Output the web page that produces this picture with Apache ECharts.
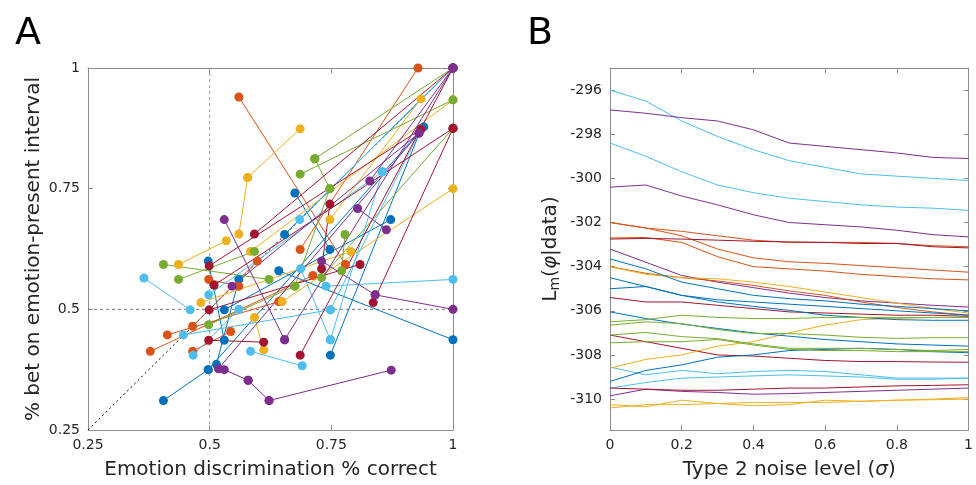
<!DOCTYPE html>
<html>
<head>
<meta charset="utf-8">
<script src="https://cdn.jsdelivr.net/npm/echarts@6/dist/echarts.min.js"></script>
<style>
  html, body { margin: 0; padding: 0; background: #fff; }
  #main { width: 976px; height: 485px; }
</style>
</head>
<body>
<div id="main"></div>
<script>
// ---- panel A: pairs of points per subject, grouped by colour ----
var blueA = [
  [[0.405, 0.311], [0.497, 0.375]],
  [[0.514, 0.386], [0.56, 0.562]],
  [[0.497, 0.60], [0.53, 0.436]],
  [[0.642, 0.58], [1, 0.437]],
  [[0.748, 0.405], [0.934, 0.873]],
  [[0.53, 0.499], [0.872, 0.686]],
  [[0.654, 0.655], [1, 1]],
  [[0.675, 0.741], [0.747, 0.624]],
  [[0.497, 0.375], [0.94, 0.878]]
];
var orangeA = [
  [[0.56, 0.94], [0.779, 0.593]],
  [[0.928, 1], [0.686, 0.624]],
  [[0.378, 0.413], [0.712, 0.57]],
  [[0.413, 0.447], [0.642, 0.516]],
  [[0.465, 0.413], [0.543, 0.454]],
  [[0.465, 0.465], [0.598, 0.6]],
  [[0.498, 0.562], [0.56, 0.548]]
];
var yellowA = [
  [[0.578, 0.773], [0.686, 0.874]],
  [[0.56, 0.656], [0.578, 0.773]],
  [[0.436, 0.593], [0.534, 0.642]],
  [[0.584, 0.62], [1, 0.934]],
  [[0.747, 0.686], [0.934, 0.936]],
  [[0.649, 0.516], [1, 0.75]],
  [[0.482, 0.514], [0.79, 0.62]],
  [[0.592, 0.483], [0.611, 0.416]]
];
var greenA = [
  [[0.716, 0.812], [1, 1]],
  [[0.686, 0.78], [1, 0.934]],
  [[0.716, 0.812], [0.747, 0.75]],
  [[0.405, 0.593], [0.622, 0.562]],
  [[0.436, 0.562], [0.592, 0.62]],
  [[0.778, 0.655], [0.771, 0.58]],
  [[0.73, 0.566], [1, 0.875]],
  [[0.498, 0.468], [0.675, 0.548]],
  [[0.747, 0.75], [0.675, 0.548]]
];
var cyanA = [
  [[0.365, 0.565], [0.46, 0.499]],
  [[0.855, 0.785], [0.748, 0.437]],
  [[0.748, 0.499], [0.934, 0.873]],
  [[0.584, 0.413], [0.69, 0.383]],
  [[0.446, 0.447], [0.748, 0.499]],
  [[0.739, 0.548], [1, 0.562]],
  [[0.687, 0.584], [0.748, 0.437]],
  [[0.685, 0.686], [1, 1]],
  [[0.498, 0.53], [0.855, 0.785]],
  [[0.466, 0.405], [0.56, 0.5]]
];
var darkredA = [
  [[0.592, 0.656], [1, 1]],
  [[0.499, 0.59], [0.934, 0.873]],
  [[0.747, 0.718], [0.73, 0.584]],
  [[0.836, 0.514], [1, 0.875]],
  [[0.499, 0.499], [0.809, 0.593]],
  [[0.498, 0.436], [0.611, 0.432]],
  [[0.686, 0.405], [1, 1]],
  [[0.509, 0.55], [1, 0.875]]
];
var purpleA = [
  [[0.53, 0.686], [0.654, 0.437]],
  [[0.518, 0.377], [0.93, 0.865]],
  [[0.53, 0.375], [0.579, 0.353]],
  [[0.579, 0.353], [0.622, 0.311]],
  [[0.622, 0.311], [0.873, 0.374]],
  [[0.654, 0.437], [1, 1]],
  [[0.73, 0.60], [0.84, 0.53]],
  [[0.84, 0.53], [1, 0.5]],
  [[0.829, 0.766], [1, 1]],
  [[0.804, 0.709], [0.863, 0.665]],
  [[0.546, 0.548], [0.93, 0.865]]
];
var ticksA = [0.25, 0.5, 0.75, 1];

// ---- panel B: model evidence vs noise level ----
var noiseB = [0, 0.1, 0.2, 0.3, 0.4, 0.5, 0.6, 0.7, 0.8, 0.9, 1];
var cyanB = [
  [-296.0, -296.5, -297.4, -298.1, -298.7, -299.2, -299.5, -299.8, -299.9, -300.0, -300.1],
  [-298.4, -299.0, -299.7, -300.3, -300.65, -300.9, -301.05, -301.2, -301.3, -301.35, -301.45],
  [-308.55, -308.9, -308.7, -308.85, -308.75, -308.7, -308.75, -308.9, -309.05, -309.05, -309.05],
  [-309.5, -309.25, -309.05, -309.0, -308.95, -308.9, -308.95, -309.0, -309.1, -309.1, -309.05]
];
var purpleB = [
  [-296.9, -297.05, -297.25, -297.4, -297.8, -298.4, -298.55, -298.7, -298.85, -299.05, -299.1],
  [-300.4, -300.3, -300.8, -301.2, -301.65, -302.0, -302.1, -302.2, -302.35, -302.55, -302.65],
  [-303.2, -303.8, -304.4, -304.7, -304.95, -305.2, -305.4, -305.55, -305.65, -305.75, -305.83],
  [-309.85, -309.55, -309.65, -309.7, -309.78, -309.75, -309.7, -309.65, -309.6, -309.55, -309.5]
];
var orangeB = [
  [-302.0, -302.25, -302.4, -302.6, -302.8, -302.9, -302.9, -302.9, -302.95, -303.05, -303.1],
  [-302.0, -302.25, -302.6, -303.2, -303.6, -303.78, -303.85, -303.95, -304.05, -304.15, -304.25],
  [-302.7, -302.68, -302.9, -303.55, -304.0, -304.1, -304.2, -304.35, -304.45, -304.55, -304.6],
  [-304.0, -304.3, -304.5, -304.65, -304.85, -305.1, -305.3, -305.6, -305.85, -306.05, -306.2]
];
var darkredB = [
  [-302.75, -302.72, -302.75, -302.8, -302.85, -302.88, -302.9, -302.95, -302.95, -303.1, -303.15],
  [-305.4, -305.6, -305.6, -305.75, -305.9, -306.05, -306.1, -306.15, -306.2, -306.2, -306.25],
  [-307.1, -307.4, -307.7, -308.0, -308.05, -308.15, -308.25, -308.3, -308.3, -308.32, -308.33],
  [-309.5, -309.55, -309.6, -309.6, -309.55, -309.5, -309.5, -309.45, -309.4, -309.38, -309.35]
];
var yellowB = [
  [-304.0, -304.35, -304.5, -304.55, -304.7, -304.9, -305.15, -305.4, -305.65, -305.9, -306.1],
  [-308.6, -308.2, -308.0, -307.6, -307.4, -307.0, -306.65, -306.4, -306.35, -306.3, -306.3],
  [-310.25, -310.35, -310.05, -310.2, -310.3, -310.25, -310.05, -310.1, -310.05, -310.0, -309.93],
  [-310.4, -310.25, -310.25, -310.2, -310.15, -310.15, -310.15, -310.1, -310.05, -310.03, -310.0]
];
var blueB = [
  [-303.65, -304.1, -304.7, -305.0, -305.3, -305.45, -305.55, -305.7, -305.8, -305.9, -306.0],
  [-304.5, -304.9, -305.3, -305.6, -305.8, -305.98, -306.2, -306.3, -306.4, -306.43, -306.43],
  [-305.0, -304.9, -305.3, -305.5, -305.6, -305.7, -305.8, -305.9, -306.0, -306.1, -306.2],
  [-306.05, -306.35, -306.6, -306.8, -307.0, -307.15, -307.3, -307.4, -307.5, -307.55, -307.6],
  [-309.2, -308.7, -308.45, -308.1, -308.0, -307.8, -307.75, -307.7, -307.75, -307.85, -307.9]
];
var greenB = [
  [-306.5, -306.4, -306.2, -306.3, -306.35, -306.35, -306.3, -306.3, -306.3, -306.3, -306.3],
  [-306.65, -306.5, -306.58, -306.85, -307.03, -307.03, -307.1, -307.2, -307.25, -307.22, -307.22],
  [-307.1, -306.98, -307.17, -307.26, -307.5, -307.7, -307.7, -307.7, -307.75, -307.8, -307.75],
  [-307.45, -307.4, -307.4, -307.3, -307.55, -307.75, -307.8, -307.8, -307.85, -307.85, -307.85]
];
var ticksB = [-310, -308, -306, -304, -302, -300, -298, -296];

var C = {
  blue: '#0072BD', orange: '#D95319', yellow: '#EDB120', purple: '#7E2F8E',
  green: '#77AC30', cyan: '#4DBEEE', darkred: '#A2142F'
};
var axisCol = '#8c8c8c';
var textCol = '#262626';
var fontFam = 'DejaVu Sans';

var myChart = echarts.init(document.getElementById('main'));

var series = [];
// reference lines in A
series.push({
  type: 'line', xAxisIndex: 0, yAxisIndex: 0, data: [[0.25, 0.25], [1, 1]],
  symbol: 'none', lineStyle: { color: '#000', width: 1, type: [2, 3] }
});
series.push({
  type: 'line', xAxisIndex: 0, yAxisIndex: 0, data: [[0.5, 0.25], [0.5, 1]],
  symbol: 'none', lineStyle: { color: '#999', width: 1, type: [3, 3] }
});
series.push({
  type: 'line', xAxisIndex: 0, yAxisIndex: 0, data: [[0.25, 0.5], [1, 0.5]],
  symbol: 'none', lineStyle: { color: '#777', width: 1, type: [3, 3] }
});

function addPairs(list, col) {
  list.forEach(function(p) {
    series.push({
      type: 'line', xAxisIndex: 0, yAxisIndex: 0, data: p,
      symbol: 'circle', symbolSize: 9, showSymbol: true,
      lineStyle: { color: col, width: 1 },
      itemStyle: { color: col }
    });
  });
}
addPairs(blueA, C.blue);
addPairs(orangeA, C.orange);
addPairs(yellowA, C.yellow);
addPairs(greenA, C.green);
addPairs(cyanA, C.cyan);
addPairs(darkredA, C.darkred);
addPairs(purpleA, C.purple);

function addLines(list, col) {
  list.forEach(function(v) {
    series.push({
      type: 'line', xAxisIndex: 2, yAxisIndex: 2,
      data: noiseB.map(function(x, i) { return [x, v[i]]; }),
      symbol: 'none', lineStyle: { color: col, width: 1 }
    });
  });
}
addLines(cyanB, C.cyan);
addLines(purpleB, C.purple);
addLines(orangeB, C.orange);
addLines(darkredB, C.darkred);
addLines(yellowB, C.yellow);
addLines(blueB, C.blue);
addLines(greenB, C.green);

function baseAxis(extra) {
  var a = {
    axisLine: { show: true, onZero: false, lineStyle: { color: axisCol, width: 1 } },
    axisTick: { show: true, inside: true, length: 5, lineStyle: { color: axisCol } },
    splitLine: { show: false },
    axisLabel: { color: textCol, fontSize: 14, fontFamily: fontFam, margin: 8 },
    nameTextStyle: { color: textCol, fontSize: 20, fontFamily: fontFam }
  };
  for (var k in extra) a[k] = extra[k];
  return a;
}

var option = {
  backgroundColor: '#fff',
  animation: false,
  title: [
    { text: 'A', left: 10, top: 10, textStyle: { fontSize: 38, fontWeight: 'normal', color: '#000', fontFamily: fontFam } },
    { text: 'B', left: 522, top: 10, textStyle: { fontSize: 38, fontWeight: 'normal', color: '#000', fontFamily: fontFam } }
  ],
  grid: [
    { left: 88, top: 68, width: 365, height: 364 },
    { left: 610, top: 68, width: 365, height: 364 }
  ],
  xAxis: [
    baseAxis({ gridIndex: 0, type: 'value', min: 0.25, max: 1, interval: 0.25,
      name: 'Emotion discrimination % correct', nameLocation: 'middle', nameGap: 30 }),
    baseAxis({ gridIndex: 0, type: 'value', position: 'top', min: 0.25, max: 1, interval: 0.25,
      axisLabel: { show: false } }),
    baseAxis({ gridIndex: 1, type: 'value', min: 0, max: 1, interval: 0.2,
      name: '{n|Type 2 noise level (}{i|σ}{n|)}', nameLocation: 'middle', nameGap: 30,
      nameTextStyle: { rich: {
        n: { fontSize: 20, color: textCol, fontFamily: fontFam },
        i: { fontSize: 20, color: textCol, fontFamily: fontFam, fontStyle: 'italic' } } } }),
    baseAxis({ gridIndex: 1, type: 'value', position: 'top', min: 0, max: 1, interval: 0.2,
      axisLabel: { show: false } })
  ],
  yAxis: [
    baseAxis({ gridIndex: 0, type: 'value', min: 0.25, max: 1, interval: 0.25,
      name: '% bet on emotion-present interval', nameLocation: 'middle', nameGap: 44 }),
    baseAxis({ gridIndex: 0, type: 'value', position: 'right', min: 0.25, max: 1, interval: 0.25,
      axisLabel: { show: false } }),
    baseAxis({ gridIndex: 1, type: 'value', min: -311.4, max: -295,
      axisLabel: { color: textCol, fontSize: 14, fontFamily: fontFam, margin: 8, customValues: ticksB },
      axisTick: { show: true, inside: true, length: 5, lineStyle: { color: axisCol }, customValues: ticksB },
      name: '{n|L}{s|m}{n|(}{i|φ}{n||data)}', nameLocation: 'middle', nameGap: 48,
      nameTextStyle: { rich: {
        n: { fontSize: 20, color: textCol, fontFamily: fontFam },
        s: { fontSize: 14, color: textCol, fontFamily: fontFam, verticalAlign: 'bottom', padding: [8, 0, 0, 0] },
        i: { fontSize: 20, color: textCol, fontFamily: fontFam, fontStyle: 'italic' } } } }),
    baseAxis({ gridIndex: 1, type: 'value', position: 'right', min: -311.4, max: -295,
      axisLabel: { show: false },
      axisTick: { show: true, inside: true, length: 5, lineStyle: { color: axisCol }, customValues: ticksB } })
  ],
  series: series
};

myChart.setOption(option);
</script>
</body>
</html>
